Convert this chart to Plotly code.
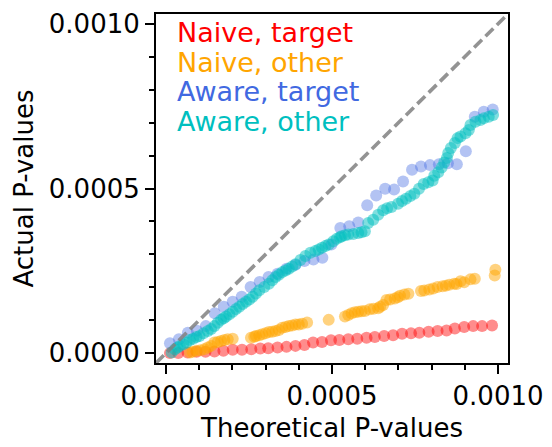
import plotly.graph_objects as go

# ---- data ----
naive_target_x = [0.000012, 0.000037, 0.000065, 0.000092, 0.000119, 0.000146, 0.000173, 0.000201,
                  0.000229, 0.000257, 0.000284, 0.000308, 0.000336, 0.000363, 0.000390, 0.000417,
                  0.000443, 0.000470, 0.000497, 0.000522, 0.000549, 0.000576, 0.000604, 0.000629,
                  0.000657, 0.000684, 0.000711, 0.000738, 0.000763, 0.000791, 0.000818, 0.000845,
                  0.000870, 0.000898, 0.000925, 0.000952, 0.000982]
naive_target_y = [0.000000, 0.000000, 0.000002, 0.000004, 0.000004, 0.000005, 0.000007, 0.000010,
                  0.000010, 0.000012, 0.000014, 0.000015, 0.000017, 0.000019, 0.000022, 0.000025,
                  0.000032, 0.000034, 0.000039, 0.000040, 0.000042, 0.000044, 0.000047, 0.000049,
                  0.000052, 0.000054, 0.000059, 0.000060, 0.000062, 0.000065, 0.000067, 0.000069,
                  0.000075, 0.000079, 0.000082, 0.000082, 0.000084]

naive_other_x = [0.000072, 0.000080, 0.000092, 0.000104, 0.000116, 0.000126, 0.000136, 0.000146,
                 0.000156, 0.000166, 0.000176, 0.000186, 0.000201, 0.000256, 0.000266, 0.000271,
                 0.000281, 0.000290, 0.000300, 0.000310, 0.000320, 0.000330, 0.000340, 0.000350,
                 0.000360, 0.000370, 0.000380, 0.000390, 0.000400, 0.000410, 0.000425, 0.000490,
                 0.000539, 0.000549, 0.000559, 0.000569, 0.000579, 0.000589, 0.000599, 0.000614,
                 0.000625, 0.000639, 0.000645, 0.000654, 0.000664, 0.000675, 0.000689, 0.000698,
                 0.000705, 0.000718, 0.000730, 0.000768, 0.000778, 0.000793, 0.000805, 0.000818,
                 0.000833, 0.000843, 0.000853, 0.000868, 0.000875, 0.000887, 0.000898, 0.000917,
                 0.000930, 0.000990, 0.000992]
naive_other_y = [0.000002, 0.000004, 0.000007, 0.000009, 0.000012, 0.000017, 0.000022, 0.000032,
                 0.000034, 0.000037, 0.000040, 0.000042, 0.000044, 0.000047, 0.000050, 0.000052,
                 0.000054, 0.000057, 0.000060, 0.000064, 0.000065, 0.000067, 0.000070, 0.000077,
                 0.000079, 0.000082, 0.000084, 0.000087, 0.000087, 0.000089, 0.000093, 0.000101,
                 0.000111, 0.000116, 0.000121, 0.000124, 0.000126, 0.000127, 0.000128, 0.000133,
                 0.000135, 0.000136, 0.000141, 0.000146, 0.000161, 0.000163, 0.000166, 0.000170,
                 0.000174, 0.000178, 0.000180, 0.000189, 0.000190, 0.000193, 0.000196, 0.000201,
                 0.000203, 0.000205, 0.000208, 0.000211, 0.000210, 0.000218, 0.000215, 0.000224,
                 0.000226, 0.000236, 0.000253]

aware_target_x = [0.000012, 0.000039, 0.000066, 0.000093, 0.000120, 0.000147, 0.000174, 0.000201,
                  0.000228, 0.000255, 0.000282, 0.000309, 0.000336, 0.000363, 0.000390, 0.000417,
                  0.000444, 0.000471, 0.000498, 0.000525, 0.000552, 0.000579, 0.000606, 0.000633,
                  0.000660, 0.000687, 0.000714, 0.000741, 0.000768, 0.000795, 0.000822, 0.000849,
                  0.000876, 0.000903, 0.000930, 0.000957, 0.000984]
aware_target_y = [0.000030, 0.000042, 0.000062, 0.000068, 0.000082, 0.000121, 0.000141, 0.000156,
                  0.000171, 0.000201, 0.000216, 0.000231, 0.000241, 0.000256, 0.000268, 0.000280,
                  0.000284, 0.000290, 0.000330, 0.000380, 0.000385, 0.000397, 0.000449, 0.000479,
                  0.000499, 0.000497, 0.000521, 0.000557, 0.000567, 0.000571, 0.000574, 0.000577,
                  0.000574, 0.000613, 0.000718, 0.000733, 0.000740]

aware_other_x = [0.000017, 0.000027, 0.000035, 0.000042, 0.000052, 0.000062, 0.000072, 0.000082,
                 0.000092, 0.000101, 0.000113, 0.000126, 0.000136, 0.000146, 0.000156, 0.000166,
                 0.000174, 0.000181, 0.000191, 0.000201, 0.000211, 0.000221, 0.000231, 0.000241,
                 0.000251, 0.000261, 0.000271, 0.000281, 0.000296, 0.000310, 0.000320, 0.000330,
                 0.000340, 0.000350, 0.000360, 0.000370, 0.000380, 0.000390, 0.000405, 0.000420,
                 0.000435, 0.000450, 0.000460, 0.000470, 0.000480, 0.000490, 0.000504, 0.000514,
                 0.000524, 0.000529, 0.000539, 0.000549, 0.000564, 0.000579, 0.000589, 0.000599,
                 0.000609, 0.000624, 0.000639, 0.000654, 0.000666, 0.000679, 0.000699, 0.000711,
                 0.000723, 0.000736, 0.000748, 0.000762, 0.000776, 0.000790, 0.000803, 0.000808,
                 0.000820, 0.000830, 0.000838, 0.000846, 0.000850, 0.000858, 0.000870, 0.000878,
                 0.000887, 0.000902, 0.000912, 0.000917, 0.000932, 0.000947, 0.000957, 0.000972,
                 0.000985]
aware_other_y = [0.000002, 0.000012, 0.000017, 0.000022, 0.000027, 0.000032, 0.000040, 0.000044,
                 0.000049, 0.000052, 0.000060, 0.000067, 0.000073, 0.000082, 0.000092, 0.000101,
                 0.000106, 0.000111, 0.000118, 0.000126, 0.000134, 0.000141, 0.000149, 0.000156,
                 0.000163, 0.000171, 0.000181, 0.000191, 0.000201, 0.000211, 0.000221, 0.000231,
                 0.000238, 0.000246, 0.000251, 0.000256, 0.000263, 0.000270, 0.000283, 0.000295,
                 0.000305, 0.000310, 0.000315, 0.000320, 0.000325, 0.000330, 0.000340, 0.000347,
                 0.000352, 0.000355, 0.000358, 0.000360, 0.000362, 0.000365, 0.000367, 0.000370,
                 0.000395, 0.000405, 0.000420, 0.000434, 0.000440, 0.000444, 0.000454, 0.000462,
                 0.000469, 0.000477, 0.000484, 0.000499, 0.000514, 0.000519, 0.000524, 0.000539,
                 0.000549, 0.000564, 0.000579, 0.000593, 0.000608, 0.000623, 0.000638, 0.000653,
                 0.000658, 0.000668, 0.000678, 0.000693, 0.000703, 0.000708, 0.000713, 0.000718,
                 0.000723]

diag_limits = [-0.00003, 0.00103]
axis_range = [-0.00003, 0.00103]
tick_vals = [0.0, 0.0005, 0.0010]
tick_text = ["0.0000", "0.0005", "0.0010"]

series = [
    ("Naive, target", naive_target_x, naive_target_y, "rgba(255,0,0,0.45)", "red"),
    ("Naive, other", naive_other_x, naive_other_y, "rgba(255,165,0,0.5)", "orange"),
    ("Aware, target", aware_target_x, aware_target_y, "rgba(65,105,225,0.4)", "royalblue"),
    ("Aware, other", aware_other_x, aware_other_y, "rgba(0,191,191,0.5)", "#00bfbf"),
]

FONT = "DejaVu Sans"
fig = go.Figure()
for name, xs, ys, col, _ in series:
    fig.add_trace(go.Scatter(x=xs, y=ys, mode="markers", name=name,
                             marker=dict(size=12, color=col, line=dict(width=0)),
                             showlegend=False, hoverinfo="skip"))

fig.add_trace(go.Scatter(x=diag_limits, y=diag_limits, mode="lines",
                         line=dict(color="rgba(128,128,128,0.85)", width=3.6, dash="11px,5px"),
                         showlegend=False, hoverinfo="skip"))

legend_y = [0.947, 0.862, 0.778, 0.693]
for (name, _, _, _, tcol), yy in zip(series, legend_y):
    fig.add_annotation(x=0.053, y=yy, xref="paper", yref="paper", text=name,
                       showarrow=False, xanchor="left", yanchor="middle",
                       font=dict(family=FONT, size=27, color=tcol))

axis_common = dict(range=axis_range, tickvals=tick_vals, ticktext=tick_text,
                   ticks="outside", ticklen=9, tickwidth=2, tickcolor="black",
                   showline=True, linewidth=2, linecolor="black", mirror=True,
                   showgrid=False, zeroline=False,
                   tickfont=dict(family=FONT, size=26, color="black"),
                   minor=dict(dtick=0.0001, tick0=0, ticks="outside", ticklen=5,
                              tickwidth=1.5, tickcolor="black", showgrid=False))

fig.update_xaxes(**axis_common,
                 title=dict(text="Theoretical P-values", standoff=9,
                            font=dict(family=FONT, size=26, color="black")))
fig.update_yaxes(**axis_common,
                 title=dict(text="Actual P-values", standoff=8,
                            font=dict(family=FONT, size=26, color="black")))

fig.update_layout(width=552, height=447, margin=dict(l=156, r=40, t=9, b=83),
                  plot_bgcolor="white", paper_bgcolor="white",
                  font=dict(family=FONT, size=26, color="black"))

fig.write_html("out.html")
